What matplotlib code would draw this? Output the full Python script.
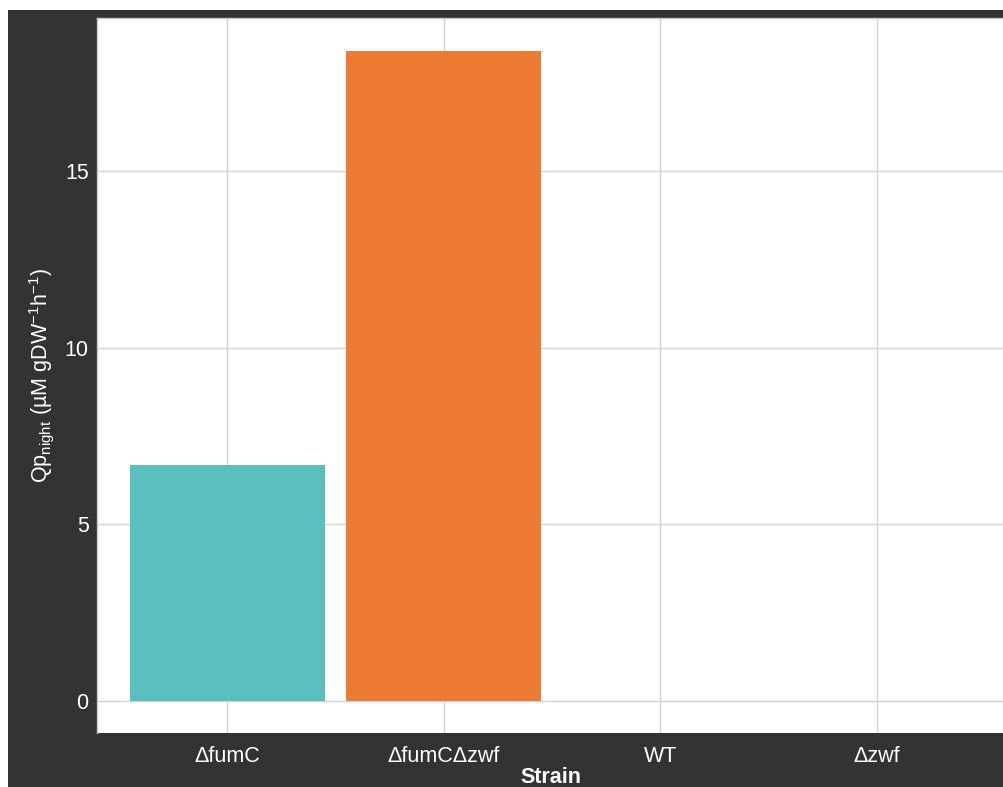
import matplotlib
matplotlib.use("Agg")
import matplotlib.pyplot as plt
from matplotlib.patches import Rectangle

strains = ["\u0394fumC", "\u0394fumC\u0394zwf", "WT", "\u0394zwf"]
qp_night = [6.68, 18.40, 0.0, 0.0]
bar_colors = ["#5BBFBD", "#EE7B33", "#F8766D", "#C77CFF"]
y_ticks = [0, 5, 10, 15]

DARK = "#333333"
FS = 15.5

plt.rcParams["font.family"] = ["Liberation Sans", "DejaVu Sans"]
plt.rcParams["mathtext.fontset"] = "custom"
plt.rcParams["mathtext.rm"] = "Liberation Sans"
plt.rcParams["mathtext.it"] = "Liberation Sans:italic"
plt.rcParams["mathtext.bf"] = "Liberation Sans:bold"

W, H = 1004, 787
fig = plt.figure(figsize=(W / 100, H / 100), dpi=100, facecolor="white")

# dark plot background, offset from the top-left corner
fig.patches.append(Rectangle((8 / W, 0), 1 - 8 / W, 1 - 10 / H,
                             transform=fig.transFigure, facecolor=DARK,
                             edgecolor="none", zorder=-10))

left, right, top, bottom = 97, 1004, 18, 733
ax = fig.add_axes([left / W, 1 - bottom / H, (right - left) / W, (bottom - top) / H])
ax.set_zorder(1)
ax.set_facecolor("white")

xs = list(range(1, len(strains) + 1))
heights = [v if v > 0 else 0 for v in qp_night]
ax.bar(xs, heights, width=0.9, color=bar_colors[:len(xs)], zorder=3)

ax.set_xlim(0.4, 0.4 + (right - left) / 216.7)
ax.set_ylim(-0.906, 19.33)
ax.set_xticks(xs)
ax.set_xticklabels(strains)
ax.set_yticks(y_ticks)

ax.grid(True, color="#D2D2D2", linewidth=1.0, zorder=0)
ax.set_axisbelow(True)
for side, sp in ax.spines.items():
    sp.set_color("#C8C8C8")
    sp.set_linewidth(1.0)
ax.spines["bottom"].set_visible(False)
ax.spines["right"].set_visible(False)

ax.tick_params(axis="both", length=0, colors="white", labelsize=FS, pad=6)
ax.tick_params(axis="x", pad=9)

ax.set_xlabel("Strain", color="white", fontsize=FS, fontweight="bold", labelpad=0.5)
ax.set_ylabel("Qp$_{\\mathrm{night}}$ (\u00b5M gDW$^{-1}$h$^{-1}$)",
              color="white", fontsize=FS, labelpad=6)

fig.savefig("out.png", dpi=100, facecolor="white")
